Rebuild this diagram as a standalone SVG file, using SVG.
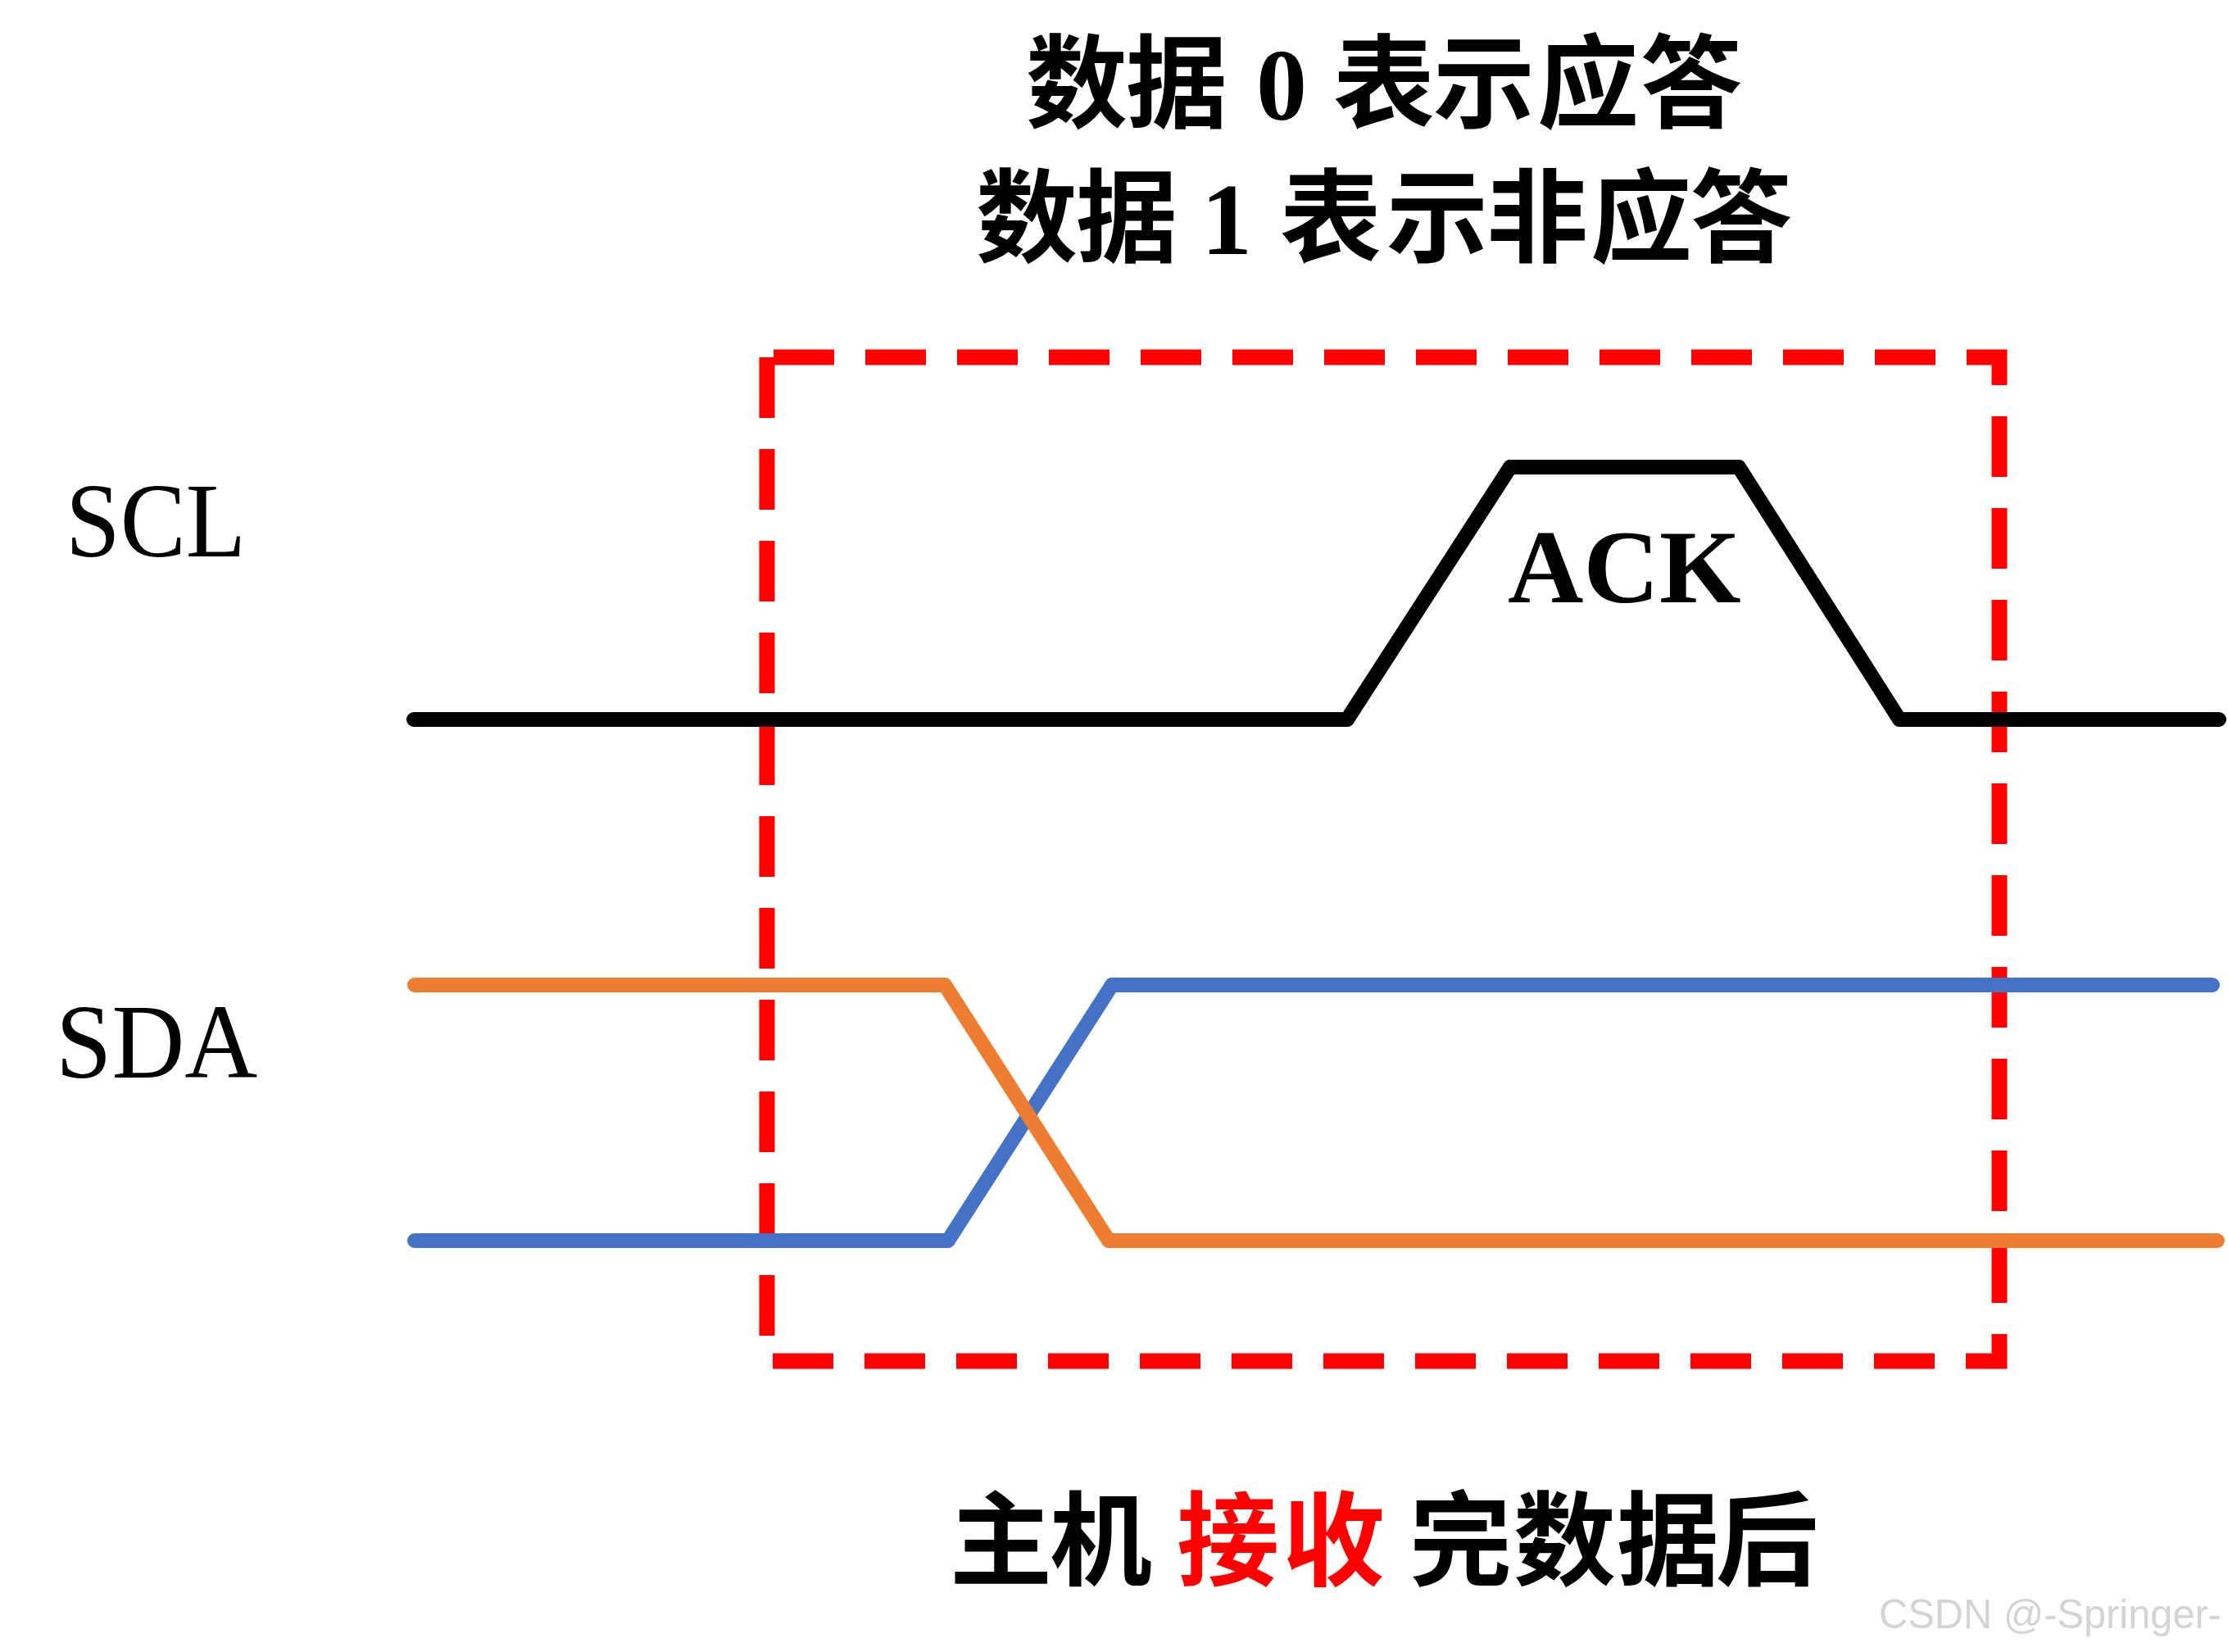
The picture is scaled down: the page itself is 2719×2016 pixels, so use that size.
<svg xmlns="http://www.w3.org/2000/svg" width="2719" height="2016" viewBox="0 0 2719 2016">
<style>
.cjk{font-family:"Noto Sans CJK SC","Noto Sans CJK JP",sans-serif;font-weight:700;}
.ser{font-family:"Liberation Serif","Times New Roman",serif;}
.wave{fill:none;stroke-width:18;stroke-linecap:round;stroke-linejoin:round;}
</style>
<rect width="2719" height="2016" fill="#ffffff"/>
<g id="title">
<text class="cjk" font-size="124" y="146" fill="#000"><tspan x="1252 1374">数据</tspan><tspan class="ser" font-weight="700" x="1533">0</tspan><tspan x="1627 1749 1876 2002">表示应答</tspan></text>
<text class="cjk" font-size="124" y="310" fill="#000"><tspan x="1191 1313">数据</tspan><tspan class="ser" font-weight="700" x="1466">1</tspan><tspan x="1562 1692 1814 1941 2063">表示非应答</tspan></text>
</g>
<g id="box">
<path d="M936,436 V1661 H2440 V436 Z" fill="none" stroke="#ff0000" stroke-width="19" stroke-dasharray="74 38" stroke-linejoin="miter"/>
</g>
<g id="labels">
<text class="ser" font-size="130" x="80" y="679" textLength="220" lengthAdjust="spacingAndGlyphs" fill="#000">SCL</text>
<text class="ser" font-size="130" x="68" y="1315" textLength="246" lengthAdjust="spacingAndGlyphs" fill="#000">SDA</text>
</g>
<g id="connectors">
<polyline id="scl" class="wave" stroke="#000000" points="505,878 1644,878 1843,570 2122,570 2318,878 2708,878"/>
<polyline id="sda-blue" class="wave" stroke="#4472C4" points="506,1514 1157,1514 1357,1202 2700,1202"/>
<polyline id="sda-orange" class="wave" stroke="#ED7D31" points="506,1202 1153,1202 1353,1514 2706,1514"/>
</g>
<g id="ack">
<text class="ser" font-size="128" font-weight="700" x="1840" y="735" fill="#000">ACK</text>
</g>
<g id="caption">
<text class="cjk" font-size="125" y="1925"><tspan fill="#000" x="1159 1281">主机</tspan><tspan fill="#ff0000" x="1436 1565">接收</tspan><tspan fill="#000" x="1720 1847 1973 2094">完数据后</tspan></text>
</g>
<g id="watermark">
<text font-family="Liberation Sans, Arial, sans-serif" font-size="50" x="2293" y="1987" textLength="418" lengthAdjust="spacingAndGlyphs" fill="#d4d4d4">CSDN @-Springer-</text>
</g>
</svg>
